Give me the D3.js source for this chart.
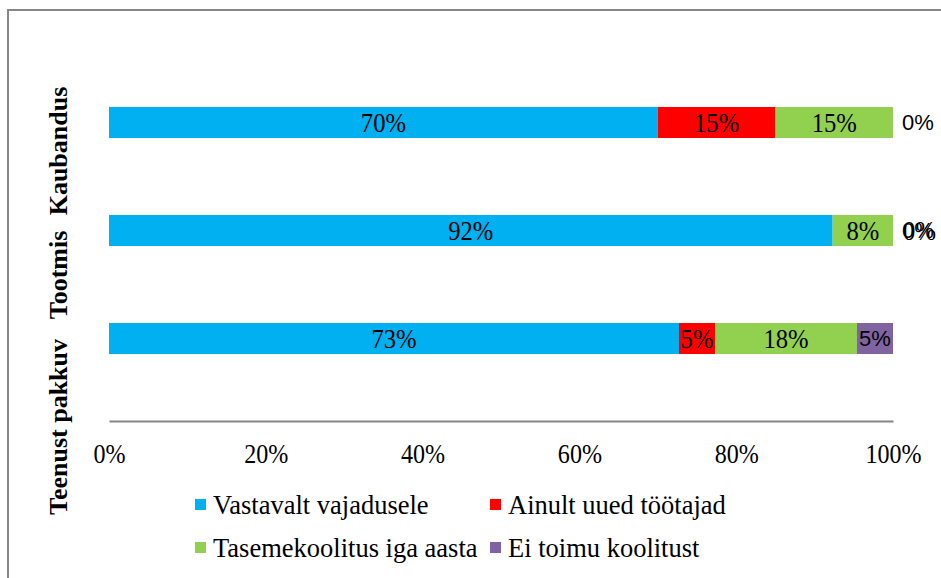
<!DOCTYPE html>
<html>
<head>
<meta charset="utf-8">
<script src="https://cdn.jsdelivr.net/npm/d3@7"></script>
<style>
  html, body { margin: 0; padding: 0; background: #fff; }
  svg { display: block; }
</style>
</head>
<body>
<svg id="chart" width="941" height="578"></svg>
<script>
// Koolituste korraldus sektorite kaupa (osakaal vastanutest)
const categories = ["Kaubandus", "Tootmis", "Teenust pakkuv"];
const seriesNames = ["Vastavalt vajadusele", "Ainult uued töötajad", "Tasemekoolitus iga aasta", "Ei toimu koolitust"];
const vastavaltVajadusele = [0.70, 0.923, 0.727];
const ainultUuedTootajad = [0.15, 0.0, 0.046];
const tasemekoolitusIgaAasta = [0.15, 0.077, 0.181];
const eiToimuKoolitust = [0.0, 0.0, 0.046];
const xTicks = [0, 0.2, 0.4, 0.6, 0.8, 1.0];
const colors = ["#00B0F0", "#FF0000", "#92D050", "#8064A2"];

const seriesValues = [vastavaltVajadusele, ainultUuedTootajad, tasemekoolitusIgaAasta, eiToimuKoolitust];
const rows = categories.map((c, i) => {
  const r = { category: c };
  seriesNames.forEach((s, j) => r[s] = seriesValues[j][i]);
  return r;
});

const svg = d3.select("#chart");
const serif = "'Liberation Serif', 'Times New Roman', serif";
const sans = "'Liberation Sans', Arial, sans-serif";
const pct = d3.format(".0%");

// chart frame
svg.append("rect")
  .attr("x", 8).attr("y", 10).attr("width", 960).attr("height", 600)
  .attr("fill", "none").attr("stroke", "#878787").attr("stroke-width", 2);

const x = d3.scaleLinear().domain([0, 1]).range([109, 893]);
const y = d3.scaleBand().domain(categories).range([68.5, 392.5])
  .paddingInner(0.713).paddingOuter(0.3565);

const stacked = d3.stack().keys(seriesNames)(rows);

const layers = svg.append("g").selectAll("g")
  .data(stacked).join("g")
  .attr("fill", (d, i) => colors[i]);

layers.selectAll("rect")
  .data(d => d)
  .join("rect")
  .attr("x", d => x(d[0]))
  .attr("y", d => y(d.data.category))
  .attr("width", d => x(d[1]) - x(d[0]))
  .attr("height", y.bandwidth());

// segment labels; zero-width segments are labelled beside the bar end
stacked.forEach((layer, li) => {
  layer.forEach(d => {
    const v = d[1] - d[0];
    const cy = y(d.data.category) + y.bandwidth() / 2;
    const isLast = li === stacked.length - 1;
    let cx = (x(d[0]) + x(d[1])) / 2;
    if (v < 0.0005) cx = x(1) + 25 + (li === 1 ? 1.5 : 0);
    svg.append("text")
      .attr("transform", isLast ? `translate(${cx},${cy})` : `translate(${cx},${cy}) scale(0.88,1)`)
      .attr("dy", "0.35em")
      .attr("text-anchor", "middle")
      .attr("font-family", isLast ? sans : serif)
      .attr("font-size", isLast ? 22 : 28)
      .attr("fill", "#000")
      .text(pct(v));
  });
});

// x axis
const xAxis = svg.append("g").attr("transform", "translate(0,421)")
  .call(d3.axisBottom(x).tickValues(xTicks).tickFormat(d3.format(".0%")).tickSize(0).tickPadding(0));
xAxis.select(".domain").attr("stroke", "#868686").attr("stroke-width", 2);
xAxis.selectAll(".tick text")
  .attr("y", 0).attr("dy", 0)
  .attr("transform", "translate(0,42) scale(0.86,1)")
  .attr("font-family", serif)
  .attr("font-size", 28)
  .attr("fill", "#000");

// category labels
const catPos = { "Kaubandus": 151, "Tootmis": 275, "Teenust pakkuv": 427 };
categories.forEach(c => {
  svg.append("text")
    .attr("transform", `translate(67,${catPos[c]}) rotate(-90)`)
    .attr("text-anchor", "middle")
    .attr("font-family", serif)
    .attr("font-weight", "bold")
    .attr("font-size", 26)
    .attr("fill", "#000")
    .text(c);
});

// legend
const legendPos = [[195, 514], [490, 514], [195, 557], [490, 557]];
seriesNames.forEach((s, i) => {
  const [lx, ly] = legendPos[i];
  svg.append("rect")
    .attr("x", lx).attr("y", ly - 15).attr("width", 11).attr("height", 11)
    .attr("fill", colors[i]);
  svg.append("text")
    .attr("x", lx + 18).attr("y", ly)
    .attr("font-family", serif)
    .attr("font-size", 26.5)
    .attr("fill", "#000")
    .text(s);
});
</script>
</body>
</html>
